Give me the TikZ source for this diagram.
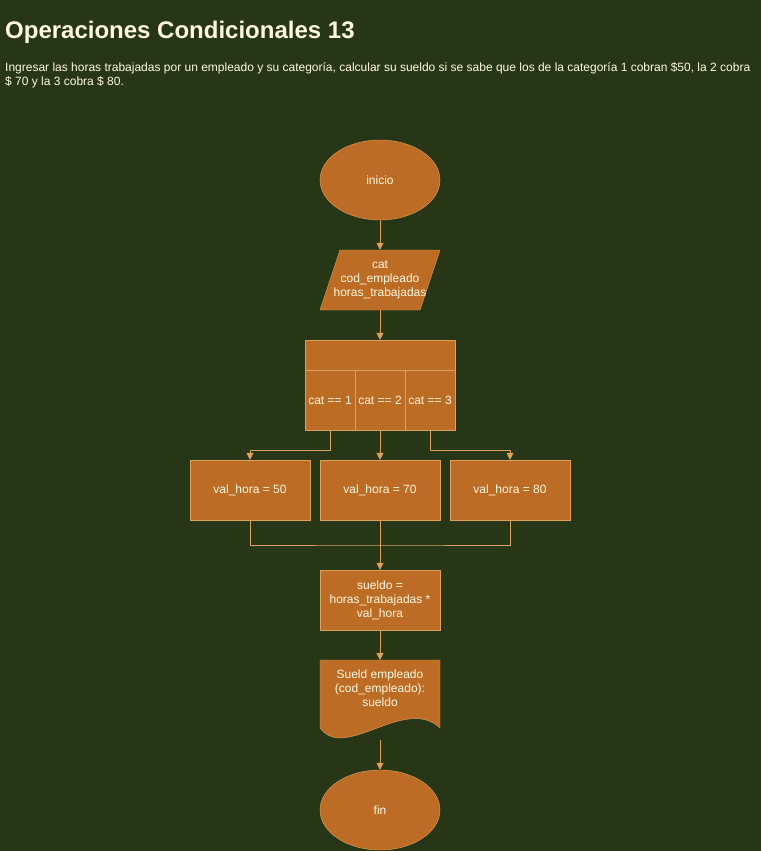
\documentclass[tikz,border=0pt]{standalone}
\usepackage{fontspec}
\setmainfont{Liberation Sans}
\usetikzlibrary{positioning,arrows.meta,shapes.geometric}

\definecolor{fondo}{HTML}{283618}
\definecolor{relleno}{HTML}{BC6C25}
\definecolor{borde}{HTML}{DDA15E}
\definecolor{texto}{HTML}{FEFAE0}

\tikzset{
  caja/.style={draw=borde, fill=relleno, text=texto, minimum width=120pt, minimum height=60pt, inner sep=0pt, align=center, font=\fontsize{12}{14}\selectfont},
  terminal/.style={caja, ellipse, minimum height=80pt},
  celda/.style={caja, minimum width=50pt},
  flecha/.style={draw=borde, -{Triangle[width=7pt,length=7pt]}},
  linea/.style={draw=borde}
}

\begin{document}
\begin{tikzpicture}[x=1pt, y=-1pt]

% Fondo y limites
\fill[fondo] (0,0) rectangle (761,851);
\useasboundingbox (0,0) rectangle (761,851);

% Titulo y enunciado
\node[anchor=base west, inner sep=0pt, text=texto, font=\fontsize{24}{29}\selectfont\bfseries] (titulo) at (5,39) {Operaciones Condicionales 13};
\node[anchor=base west, inner sep=0pt, text=texto, align=left, font=\fontsize{12}{14}\selectfont] (enunciado) at (5,85)
  {Ingresar las horas trabajadas por un empleado y su categoría, calcular su sueldo si se sabe que los de la categoría 1 cobran \$50, la 2 cobra\\ \$ 70 y la 3 cobra \$ 80.};

% Inicio y lectura
\node[terminal] (inicio) at (380,180) {inicio};
\fill[relleno, draw=borde] (340,250) -- (440,250) -- (420,310) -- (320,310) -- cycle;
\node[caja, draw=none, fill=none, minimum width=100pt] (leer) at (380,280) {cat\\cod\_empleado\\horas\_trabajadas};

% Segun (switch)
\node[caja, minimum width=150pt, minimum height=30pt] (segun) at (380,355) {};
\node[celda] (c1) at (330,400) {cat == 1};
\node[celda] (c2) at (380,400) {cat == 2};
\node[celda] (c3) at (430,400) {cat == 3};

% Asignaciones
\node[caja] (v50) at (250,490) {val\_hora = 50};
\node[caja] (v70) at (380,490) {val\_hora = 70};
\node[caja] (v80) at (510,490) {val\_hora = 80};

% Calculo
\node[caja] (sueldo) at (380,600) {sueldo =\\horas\_trabajadas *\\val\_hora};

% Documento de salida
\fill[relleno, draw=borde] (320,660) -- (440,660) -- (440,728)
  .. controls (405,695) and (345,762) .. (320,728) -- cycle;
\node[text=texto, align=center, anchor=north, inner sep=0pt, font=\fontsize{12}{14}\selectfont] (salida) at (380,670) {Sueld empleado\\(cod\_empleado):\\sueldo};
\coordinate (doctop) at (380,660);
\coordinate (docbot) at (380,740);

% Fin
\node[terminal] (fin) at (380,810) {fin};

% Conectores
\coordinate (junta) at (380,545);
\draw[flecha] (inicio) -- (leer);
\draw[flecha] (leer) -- (segun);
\draw[flecha] (c1.south) -- ++(0,20) -| (v50.north);
\draw[flecha] (c2.south) -- (v70.north);
\draw[flecha] (c3.south) -- ++(0,20) -| (v80.north);
\draw[linea] (v50.south) |- (junta) -| (v80.south);
\draw[flecha] (v70.south) -- (sueldo.north);
\draw[flecha] (sueldo.south) -- (doctop);
\draw[flecha] (docbot) -- (fin.north);

\end{tikzpicture}
\end{document}
